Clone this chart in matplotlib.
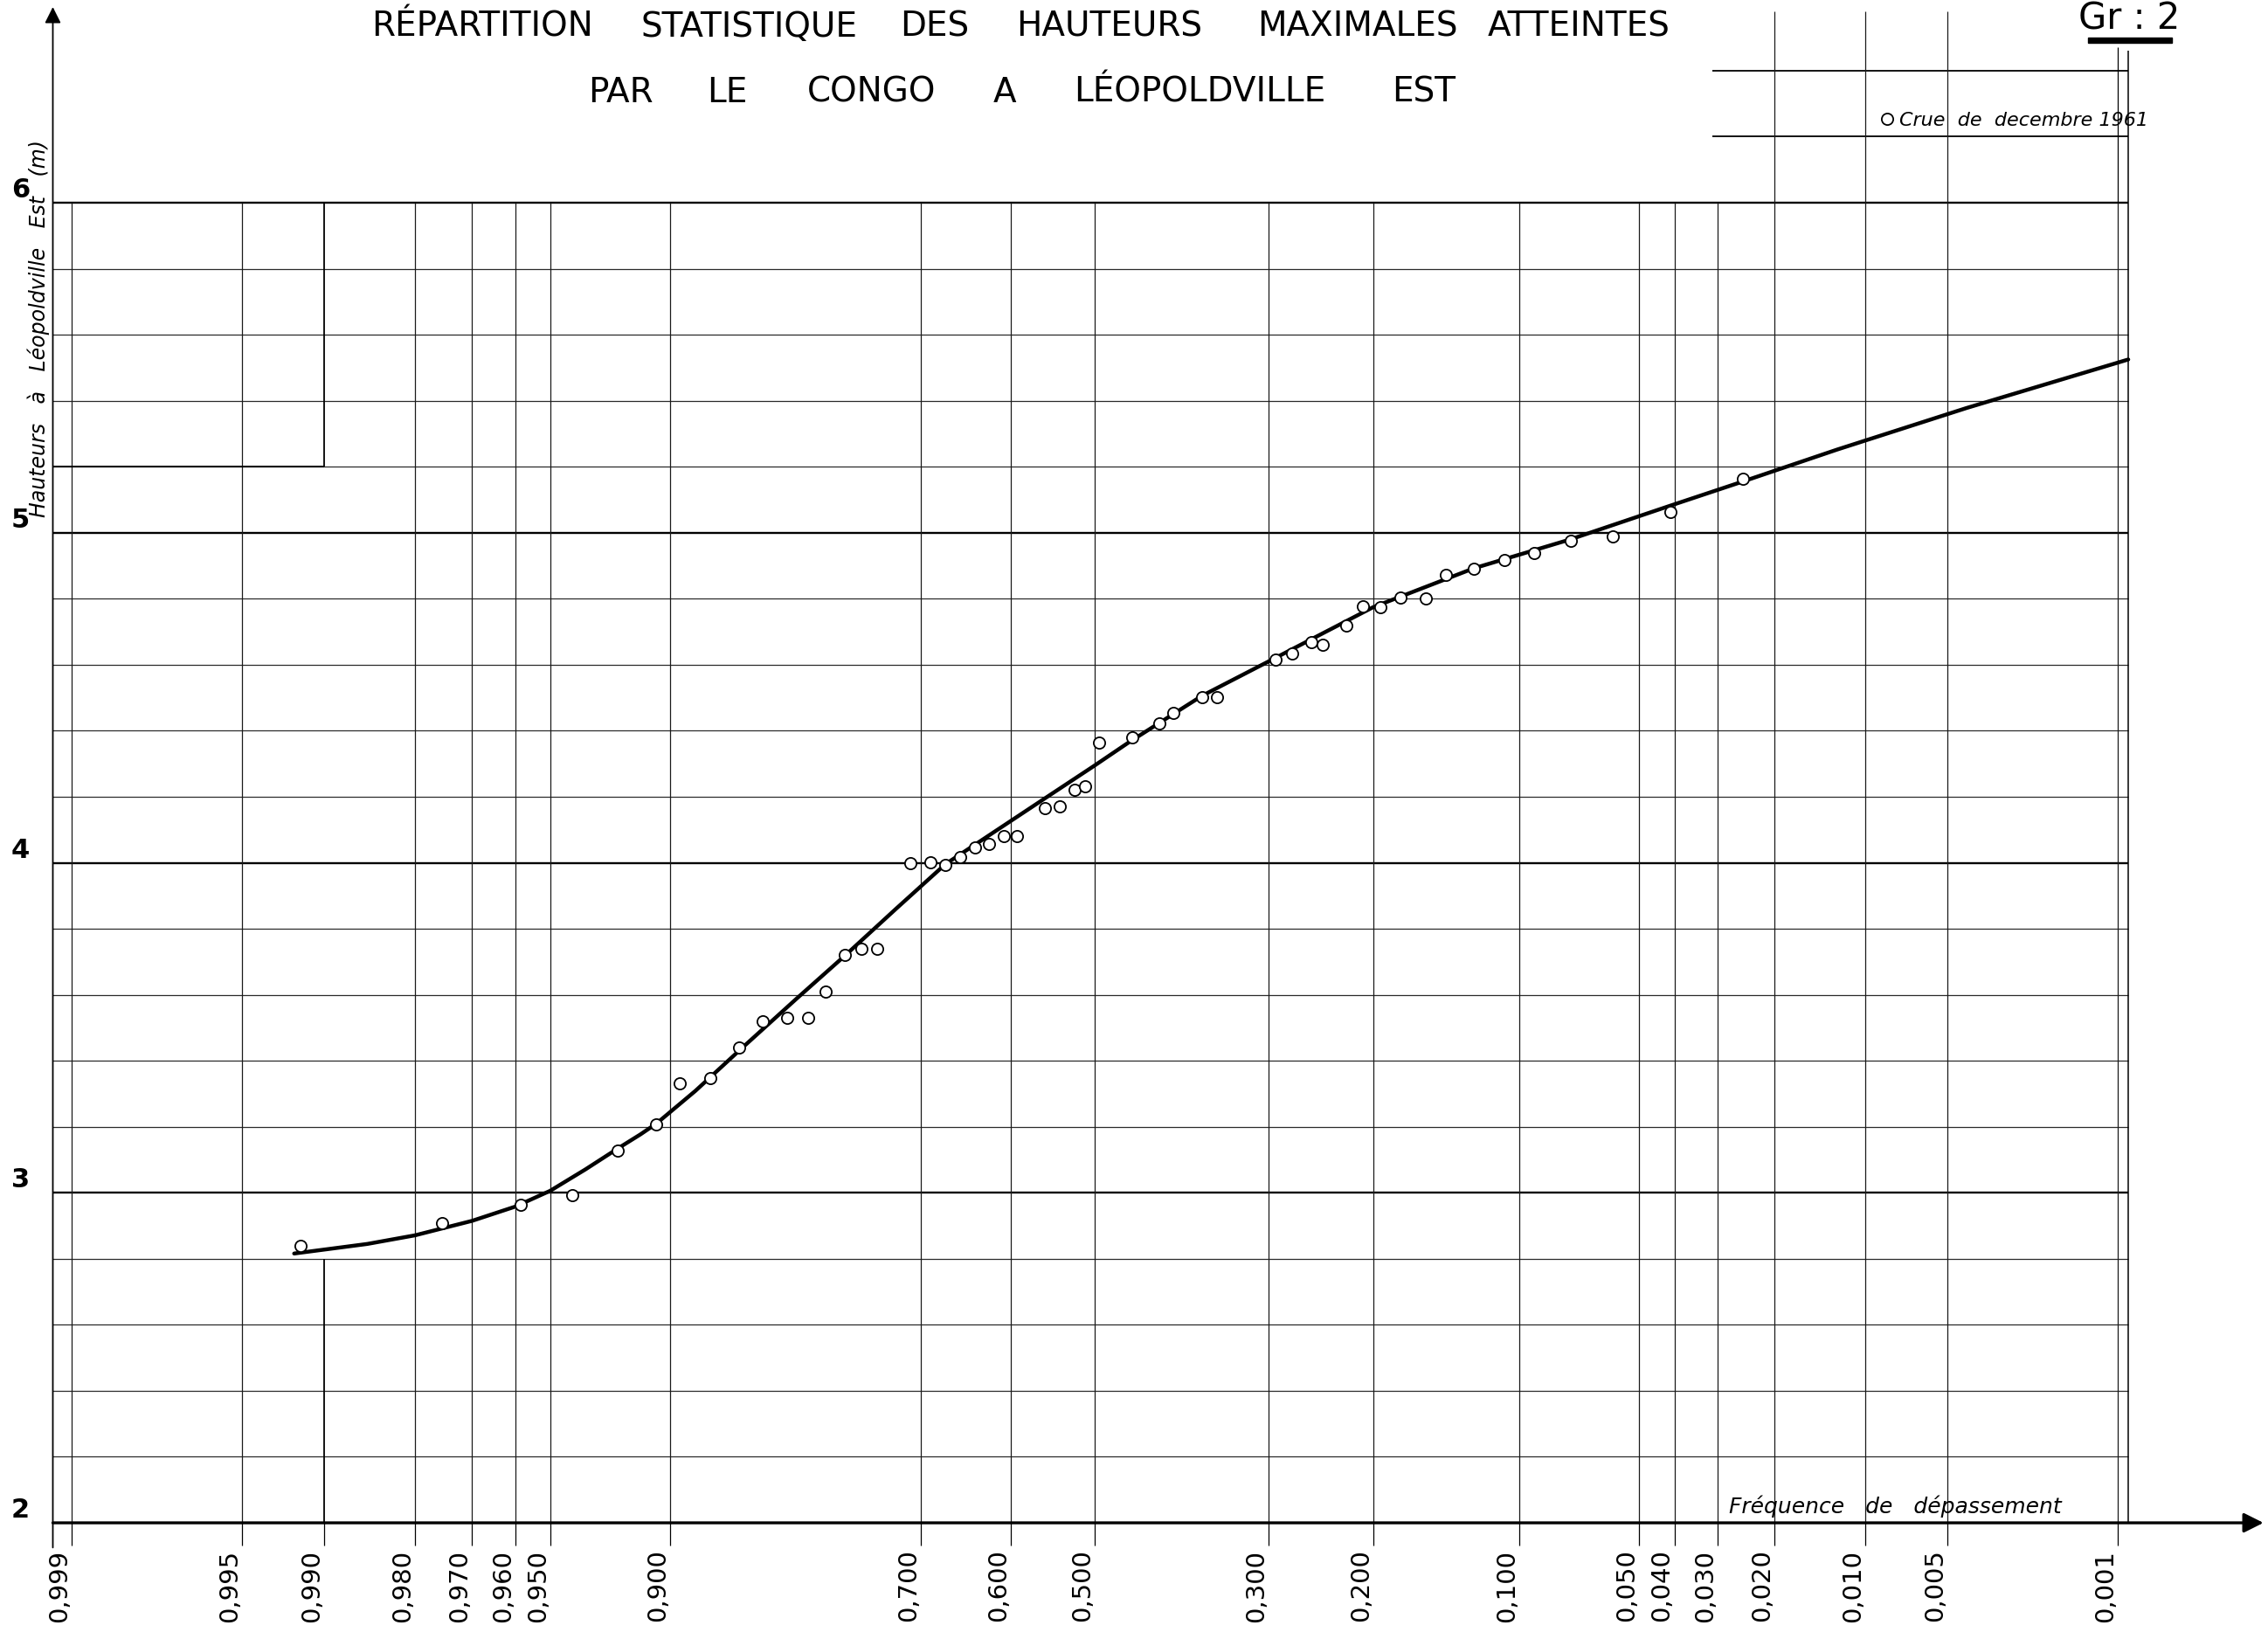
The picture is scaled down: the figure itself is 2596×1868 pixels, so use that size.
from statistics import NormalDist

import numpy as np
import matplotlib
matplotlib.use("Agg")
import matplotlib.pyplot as plt


# valeurs

FREQ_TICKS = [0.999, 0.995, 0.990, 0.980, 0.970, 0.960, 0.950, 0.900,
              0.700, 0.600, 0.500, 0.300, 0.200, 0.100, 0.050, 0.040,
              0.030, 0.020, 0.010, 0.005, 0.001]
FREQ_LABELS = ["0,999", "0,995", "0,990", "0,980", "0,970", "0,960", "0,950", "0,900",
               "0,700", "0,600", "0,500", "0,300", "0,200", "0,100", "0,050", "0,040",
               "0,030", "0,020", "0,010", "0,005", "0,001"]

HEIGHT_LEVELS = [2.2, 2.4, 2.6, 2.8, 3.0, 3.2, 3.4, 3.6, 3.8, 4.0,
                 4.2, 4.4, 4.6, 4.8, 5.0, 5.2, 5.4, 5.6, 5.8, 6.0]
HEIGHT_LABELS = [2, 3, 4, 5, 6]

# hauteurs maximales observées (fréquence de dépassement, hauteur en m)
OBS_FREQ = [0.9918, 0.9756, 0.9586, 0.9426, 0.9253, 0.9072, 0.8951, 0.8774, 0.8586, 0.8418,
            0.8233, 0.8068, 0.7919, 0.7746, 0.7593, 0.7444, 0.7112, 0.6901, 0.6740, 0.6576,
            0.6413, 0.6251, 0.6080, 0.5929, 0.5596, 0.5418, 0.5247, 0.5120, 0.4944, 0.4550,
            0.4231, 0.4063, 0.3730, 0.3561, 0.2922, 0.2753, 0.2569, 0.2457, 0.2236, 0.2090,
            0.1941, 0.1777, 0.1587, 0.1446, 0.1263, 0.1079, 0.0924, 0.0754, 0.0588, 0.0411,
            0.0252]
OBS_HEIGHT = [2.840, 2.909, 2.963, 2.992, 3.128, 3.206, 3.331, 3.348, 3.441, 3.520,
              3.531, 3.531, 3.610, 3.720, 3.740, 3.740, 4.000, 4.002, 3.994, 4.018,
              4.047, 4.057, 4.082, 4.082, 4.165, 4.170, 4.220, 4.233, 4.364, 4.379,
              4.423, 4.455, 4.502, 4.502, 4.616, 4.633, 4.668, 4.660, 4.719, 4.778,
              4.775, 4.804, 4.800, 4.872, 4.892, 4.918, 4.939, 4.975, 4.989, 5.063,
              5.164]

# courbe d'ajustement tracée
CURVE_FREQ = [0.9922, 0.9860, 0.9800, 0.9700, 0.9600, 0.9500, 0.9380, 0.9252, 0.9150, 0.9072,
              0.8861, 0.8561, 0.8159, 0.7743, 0.7257, 0.6740, 0.6395, 0.5576, 0.5012, 0.4590,
              0.3730, 0.2932, 0.2005, 0.1263, 0.0754, 0.0411, 0.0252, 0.01248, 0.00423, 0.0009]
CURVE_HEIGHT = [2.816, 2.845, 2.871, 2.915, 2.958, 3.006, 3.071, 3.134, 3.177, 3.210,
                3.309, 3.441, 3.589, 3.720, 3.861, 3.996, 4.058, 4.199, 4.293, 4.365,
                4.506, 4.620, 4.774, 4.892, 4.980, 5.082, 5.155, 5.252, 5.378, 5.525]

TITLE_1 = ["RÉPARTITION", "STATISTIQUE", "DES", "HAUTEURS", "MAXIMALES", "ATTEINTES"]
TITLE_2 = ["PAR", "LE", "CONGO", "A", "LÉOPOLDVILLE", "EST"]


# échelle gaussienne (papier de probabilité)

_nd = NormalDist()


def freq_to_z(f):
    f = np.clip(np.asarray(f, dtype=float), 1e-9, 1 - 1e-9)
    return np.vectorize(_nd.inv_cdf, otypes=[float])(f)


def z_to_freq(z):
    z = np.asarray(z, dtype=float)
    return np.vectorize(_nd.cdf, otypes=[float])(z)


X_LEFT = 0.999175     # axe des hauteurs
X_RIGHT = 0.000208    # pointe de la flèche
RIGHT_EDGE = 0.0009   # bord droit du quadrillage
Y_TOP = 6.593

FONT = "DejaVu Sans"

fig = plt.figure(figsize=(25.96, 18.68), dpi=100)
ax = fig.add_axes([0.0233, 0.0669, 0.9747, 0.9288])
ax.set_xscale("function", functions=(freq_to_z, z_to_freq))
ax.set_xlim(X_LEFT, X_RIGHT)
ax.set_ylim(2.0, Y_TOP)
for s in ax.spines.values():
    s.set_visible(False)

# quadrillage horizontal
for h in HEIGHT_LEVELS:
    major = abs(h - round(h)) < 1e-6
    ax.hlines(h, X_LEFT, RIGHT_EDGE, colors="black" if major else "#2a2a2a",
              linewidth=1.7 if major else 0.9, zorder=1)

# quadrillage vertical (la ligne 0,990 est interrompue sur l'original)
others = [f for f in FREQ_TICKS if f != 0.990]
ax.vlines(others, 2.0, 6.0, colors="#1a1a1a", linewidth=0.9, zorder=1)
ax.vlines([0.990, 0.990], [5.2, 2.0], [6.0, 2.8], colors="black", linewidth=1.3, zorder=1)
ax.hlines(5.2, X_LEFT, 0.990, colors="black", linewidth=1.4, zorder=1)
ax.vlines(RIGHT_EDGE, 2.0, 6.46, colors="black", linewidth=1.1, zorder=1)

# cartouche en haut à droite
ax.hlines([6.2, 6.4], 0.031, RIGHT_EDGE, colors="black", linewidth=1.3, zorder=1)
ax.vlines([0.020, 0.010, 0.005], 6.0, 6.58, colors="#1a1a1a", linewidth=0.9, zorder=1)
ax.vlines(0.001, 6.0, 6.47, colors="black", linewidth=0.9, zorder=1)

# axes avec flèches
ax.annotate("", xy=(X_LEFT, Y_TOP), xytext=(X_LEFT, 1.925), annotation_clip=False,
            arrowprops=dict(arrowstyle="-|>", color="black", lw=1.3, mutation_scale=28,
                            shrinkA=0, shrinkB=0))
ax.annotate("", xy=(X_RIGHT, 2.0), xytext=(X_LEFT, 2.0), annotation_clip=False,
            arrowprops=dict(arrowstyle="-|>", color="black", lw=2.4, mutation_scale=34,
                            shrinkA=0, shrinkB=0))

# courbe et points
ax.plot(CURVE_FREQ, CURVE_HEIGHT, color="black", linewidth=3.2, zorder=3,
        solid_capstyle="round", solid_joinstyle="round")
pts, = ax.plot(OBS_FREQ, OBS_HEIGHT, "o", mfc="white", mec="black", ms=9.5, mew=1.3,
               zorder=4, label="Crue  de  decembre 1961")

leg = ax.legend(handles=[pts], loc="center left", bbox_to_anchor=(0.8295, 0.926),
                bbox_transform=fig.transFigure, frameon=False, handlelength=0.6,
                handletextpad=0.35, borderpad=0, borderaxespad=0,
                prop=dict(family=FONT, style="italic", size=16))

# graduations : le texte se trouve à gauche du trait, comme sur l'original
ax.set_xticks(FREQ_TICKS, FREQ_LABELS, rotation=90, ha="right")
ax.xaxis.set_minor_locator(matplotlib.ticker.NullLocator())
ax.tick_params(axis="x", direction="out", length=19, width=0.9, pad=3,
               labelsize=21)
ax.set_yticks([])

for v in HEIGHT_LABELS:
    ax.annotate(str(v), xy=(0, v), xycoords=("axes fraction", "data"),
                xytext=(-19, 0), textcoords="offset points", ha="right", va="bottom",
                fontsize=22, family=FONT, fontweight="bold")

ax.annotate("Hauteurs   à   Léopoldville   Est   (m)", xy=(0, 5.62),
            xycoords=("axes fraction", "data"), xytext=(-11.5, 0),
            textcoords="offset points", rotation=90, ha="center", va="center",
            fontsize=17, family=FONT, style="italic")

ax.text(0.0078, 2.05, "Fréquence   de   dépassement", ha="center", va="center",
        fontsize=18, family=FONT, style="italic")

# titre
for word, xc in zip(TITLE_1, [552, 858, 1070, 1270, 1554, 1807]):
    fig.text(xc / 2596, 0.9835, word, ha="center", va="center", fontsize=28,
             family=FONT)
for word, xc in zip(TITLE_2, [710, 832, 998, 1150, 1373, 1630]):
    fig.text(xc / 2596, 0.9435, word, ha="center", va="center", fontsize=28,
             family=FONT)

fig.text(0.9388, 0.9885, "Gr : 2", ha="center", va="center", fontsize=30, family=FONT)
fig.add_artist(plt.Rectangle((0.9206, 0.9738), 0.037, 0.0032, transform=fig.transFigure,
                             color="black"))

fig.savefig("out.png", dpi=100, facecolor="white")
